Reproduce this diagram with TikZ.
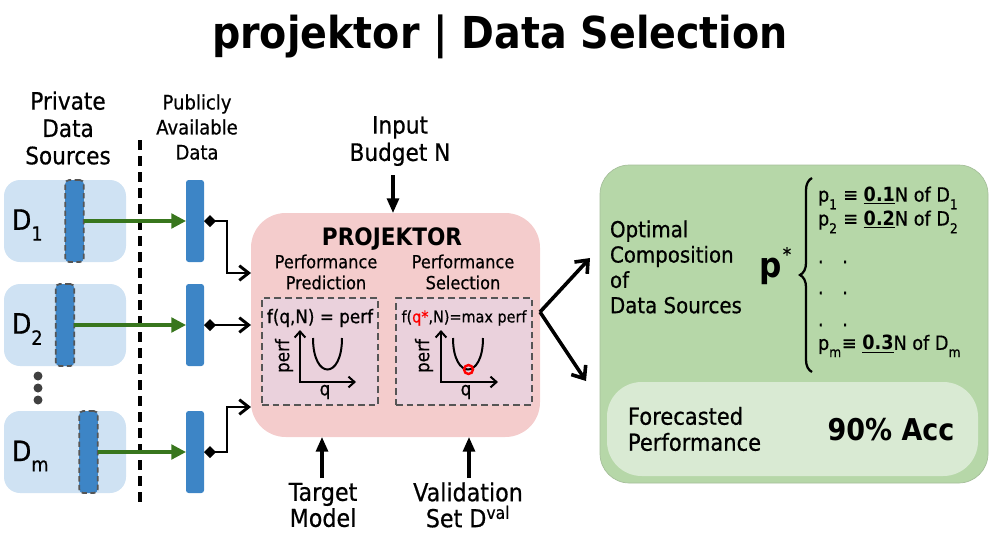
\documentclass[tikz,border=0pt]{standalone}
\usepackage{fontspec}
\setmainfont{DejaVu Sans}[FakeStretch=0.9, UprightFeatures={FakeBold=0.6}]
\usetikzlibrary{arrows.meta,calc,decorations.pathreplacing}
\definecolor{srcblue}{HTML}{CFE2F3}
\definecolor{barblue}{HTML}{3D85C6}
\definecolor{arrowgreen}{HTML}{38761D}
\definecolor{projpink}{HTML}{F4CCCC}
\definecolor{innerpink}{HTML}{EAD1DC}
\definecolor{outgreen}{HTML}{B6D7A8}
\definecolor{outlight}{HTML}{D9EAD3}
\definecolor{dashgray}{HTML}{555555}
\newcommand\lowsub[1]{\raisebox{-0.4ex}{\textsubscript{#1}}}
\newcommand\fsz[2]{\fontsize{#1}{#2}\selectfont}
\begin{document}
\begin{tikzpicture}[x=0.75pt,y=-0.75pt,
  every node/.style={inner sep=0pt, outer sep=0pt},
  srcbox/.style={fill=srcblue, rounded corners=12pt, minimum width=91.5pt, minimum height=61.5pt},
  dbar/.style={fill=barblue, draw=dashgray, dash pattern=on 4pt off 2.5pt, line width=1.3pt, rounded corners=3pt, minimum width=14pt, minimum height=61.5pt},
  pbar/.style={fill=barblue, rounded corners=2pt, minimum width=13.5pt, minimum height=61.5pt},
  garrow/.style={draw=arrowgreen, line width=2.4pt, -{Triangle[length=11pt,width=11pt]}},
  conn/.style={draw=black, line width=2.2pt, {Diamond[length=9pt,width=9pt]}-{Straight Barb[length=7pt,width=11pt]}},
  varrow/.style={draw=black, line width=2.3pt, -{Triangle[length=11pt,width=9pt]}},
  barrow/.style={draw=black, line width=2.7pt, -{Straight Barb[length=8pt,width=13pt]}},
  axis/.style={draw=black, line width=1.5pt, {Straight Barb[length=4.5pt,width=8pt]}-{Straight Barb[length=4.5pt,width=8pt]}},
  inbox/.style={fill=innerpink, draw=dashgray, dash pattern=on 5pt off 3pt, line width=1.3pt, minimum height=80.25pt},
  lbl/.style={align=center, font=\fsz{18pt}{20.5pt}},
]
\useasboundingbox (0,0) rectangle (1000,554);

% title
\node[font=\bfseries\fsz{33pt}{36pt}] (title) at (500,37) {projektor | Data Selection};

% headers
\node[lbl] (privlbl) at (68,128) {Private\\Data\\Sources};
\node[align=center, font=\fsz{15pt}{18.75pt}] (publbl) at (197,127) {Publicly\\Available\\Data};

% dashed divider
\draw[line width=2.4pt, dash pattern=on 7.5pt off 4.5pt] (140,140) -- (140,505);

% private sources
\node[srcbox] (src1) at (65,221) {};
\node[srcbox] (src2) at (65,325) {};
\node[srcbox] (src3) at (65,452) {};
\node[dbar] (bar1) at (74.5,221) {};
\node[dbar] (bar2) at (65,325) {};
\node[dbar] (bar3) at (88.5,452) {};
\node[anchor=west, font=\fsz{21pt}{24pt}] (d1) at (12,225) {D\lowsub{1}};
\node[anchor=west, font=\fsz{21pt}{24pt}] (d2) at (12,329) {D\lowsub{2}};
\node[anchor=west, font=\fsz{21pt}{24pt}] (d3) at (12,456) {D\lowsub{m}};
\fill[black!75] (38,376) circle (4.5) (38,388) circle (4.5) (38,400) circle (4.5);

% public bars
\node[pbar] (pub1) at (195,221) {};
\node[pbar] (pub2) at (195,325) {};
\node[pbar] (pub3) at (195,452) {};
\draw[garrow] (bar1.east) -- (pub1.west);
\draw[garrow] (bar2.east) -- (pub2.west);
\draw[garrow] (bar3.east) -- (pub3.west);

% projektor box
\node[fill=projpink, rounded corners=26pt, minimum width=216.75pt, minimum height=168pt] (proj) at (395.5,325) {};
\draw[conn] (pub1.east) -- ++(23,0) |- ($(proj.west)+(0,-52)$);
\draw[conn] (pub2.east) -- (proj.west);
\draw[conn] (pub3.east) -- ++(23,0) |- ($(proj.west)+(0,82)$);

\node[font=\bfseries\fsz{18pt}{20pt}] (projlbl) at (392,239) {PROJEKTOR};
\node[align=center, font=\fsz{13.5pt}{15.75pt}] (predlbl) at (326,272) {Performance\\Prediction};
\node[align=center, font=\fsz{13.5pt}{15.75pt}] (sellbl) at (463,272) {Performance\\Selection};

\node[inbox, minimum width=87pt] (predbox) at (320,351.5) {};
\node[inbox, minimum width=102pt] (selbox) at (464,351.5) {};
\node[font=\fsz{14pt}{15pt}] (predf) at (320,318) {f(q,N) = perf};
\node[font=\fsz{12pt}{15pt}] (self) at (464,318) {f(\textcolor{red}{q*},N)=max perf};

% left plot
\draw[axis] (300,330) |- (356,382);
\draw[line width=1.5pt] (313,338) .. controls (313,380) and (342,380) .. (342,338);
\node[rotate=90, font=\fsz{14pt}{15pt}] (perfL) at (284,356) {perf};
\node[font=\fsz{14pt}{15pt}] (qL) at (325,392) {q};
% right plot
\draw[axis] (441,330) |- (498,382);
\draw[line width=1.5pt] (453,338) .. controls (453,380) and (483,380) .. (483,338);
\draw[red, line width=1.8pt] (468.5,369.5) circle (4.5);
\node[rotate=90, font=\fsz{14pt}{15pt}] (perfR) at (424,356) {perf};
\node[font=\fsz{14pt}{15pt}] (qR) at (466,392) {q};

% inputs
\node[lbl] (budget) at (400,141) {Input\\Budget N};
\coordinate (bN) at (393,175);
\draw[varrow] (bN) -- (bN |- proj.north);
\node[lbl, font=\fsz{18.5pt}{19.5pt}] (target) at (323,505) {Target\\Model};
\coordinate (tM) at (322,478);
\draw[varrow] (tM) -- (tM |- proj.south);
\node[lbl, font=\fsz{18.5pt}{19.5pt}] (valid) at (468,505) {Validation\\Set D\textsuperscript{val}};
\coordinate (vS) at (469,478);
\draw[varrow] (vS) -- (vS |- proj.south);

% output box
\node[fill=outgreen, draw=outgreen!85!black!90, line width=0.5pt, rounded corners=22pt, minimum width=291pt, minimum height=238.5pt] (out) at (794,324) {};
\node[fill=outlight, rounded corners=26pt, minimum width=278.25pt, minimum height=70.5pt] (fore) at (792.5,429) {};

\coordinate (split) at ($(proj.east)+(0,-13)$);
\coordinate (toA) at (590,258);
\coordinate (toB) at (586,381);
\draw[barrow] (split) -- (toA);
\draw[barrow] (split) -- (toB);

\node[anchor=west, align=left, font=\fsz{16.5pt}{19pt}] (optlbl) at (610,267) {Optimal\\Composition\\of\\Data Sources};
\node[font=\bfseries\fsz{26pt}{30pt}] (pstar) at (771,271) {p};
\node[font=\fsz{14pt}{15pt}] (star) at (787,254) {*};
\draw[line width=1.7pt, decorate, decoration={brace, amplitude=9pt}] (812,372) -- (812,178);
\node[anchor=west, font=\fsz{14.7pt}{18pt}] (p1) at (818,198) {p\lowsub{1} ≡ \underline{\textbf{0.1}}N of D\lowsub{1}};
\node[anchor=west, font=\fsz{14.7pt}{18pt}] (p2) at (818,222) {p\lowsub{2} ≡ \underline{\textbf{0.2}}N of D\lowsub{2}};
\node[anchor=west, font=\fsz{14.7pt}{18pt}] (dotsA) at (818,262) {.\hspace{14pt}.};
\node[anchor=west, font=\fsz{14.7pt}{18pt}] (dotsB) at (818,293) {.\hspace{14pt}.};
\node[anchor=west, font=\fsz{14.7pt}{18pt}] (dotsC) at (818,325) {.\hspace{14pt}.};
\node[anchor=west, font=\fsz{14.7pt}{18pt}] (pm) at (818,346) {p\lowsub{m}≡ \underline{\textbf{0.3}}N of D\lowsub{m}};

\node[anchor=west, align=left, font=\fsz{17.5pt}{19.5pt}] (forelbl) at (628,429) {Forecasted\\Performance};
\node[font=\bfseries\fsz{22.5pt}{26pt}] (acc) at (891,430) {90\% Acc};
\end{tikzpicture}
\end{document}
